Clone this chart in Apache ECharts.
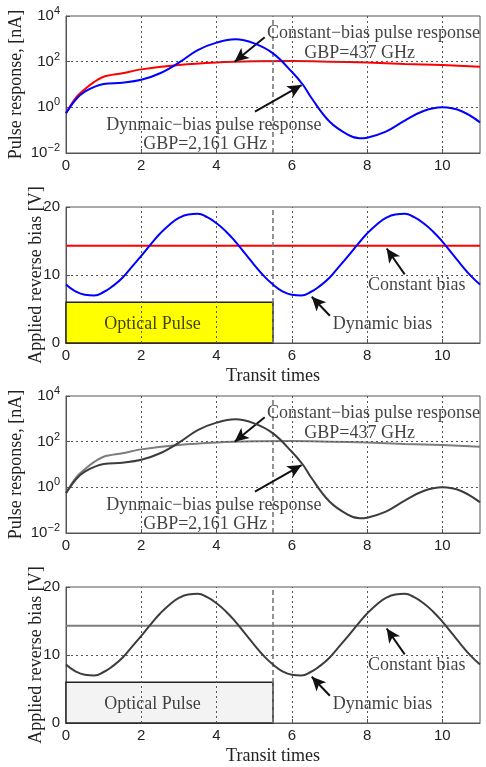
<!DOCTYPE html>
<html>
<head>
<meta charset="utf-8">
<script src="https://cdn.jsdelivr.net/npm/echarts@6/dist/echarts.min.js"></script>
<style>
  html, body { margin: 0; padding: 0; background: #fff; }
  #chart { width: 486px; height: 767px; }
</style>
</head>
<body>
<div id="chart"></div>
<script>
// pulse response (nA)
const xDynResp = [0, 0.25, 0.5, 1, 1.5, 2, 2.5, 3, 3.5, 4, 4.5, 5, 5.5, 6, 6.3, 6.5, 7, 7.5, 7.8, 8, 8.5, 9, 9.5, 10, 10.5, 11]
const dynResp = [0.55, 2.1, 4.9, 10.5, 12, 16, 31, 90, 320, 680, 950, 630, 230, 36, 9.5, 2.9, 0.24, 0.062, 0.044, 0.047, 0.086, 0.26, 0.69, 1.0, 0.69, 0.22]
const xConstResp = [0, 0.25, 0.5, 0.75, 1, 1.5, 2, 3, 4, 5, 6, 7, 8, 9, 10, 11]
const constResp = [0.55, 2.5, 6.2, 13, 22, 31, 46, 71, 91, 103, 107, 100, 91, 79, 71, 60]

// applied reverse bias (V), read every 0.25 transit times
const xBias = [0, 0.25, 0.5, 0.75, 1, 1.25, 1.5, 1.75, 2, 2.25, 2.5, 2.75, 3, 3.25, 3.5, 3.75, 4, 4.25, 4.5, 4.75, 5, 5.25,
  5.5, 5.75, 6, 6.25, 6.5, 6.75, 7, 7.25, 7.5, 7.75, 8, 8.25, 8.5, 8.75, 9, 9.25, 9.5, 9.75, 10, 10.25, 10.5, 10.75, 11]
const dynBias = [8.6, 7.6, 7.1, 7.0, 7.5, 8.4, 9.6, 11.2, 12.8, 14.5, 16.1, 17.4, 18.4, 18.9, 19.0, 18.5, 17.6, 16.4, 14.9, 13.2, 11.5, 9.9,
  8.6, 7.6, 7.1, 7.0, 7.5, 8.4, 9.6, 11.2, 12.8, 14.5, 16.1, 17.4, 18.4, 18.9, 19.0, 18.5, 17.6, 16.4, 14.9, 13.2, 11.5, 9.9, 8.6]
const xConstBias = [0, 11]
const constBias = [14.3, 14.3]

const pulseStart = 0
const pulseEnd = 5.5
const pulseHeight = 6

// inner grid lines (dotted)
const xGridTicks = [2, 4, 6, 8, 10]
const respGridTicks = [1, 100]
const biasGridTicks = [10]

const serif = '"Liberation Serif", "DejaVu Serif", serif'
const sans = '"Liberation Sans", Arial, sans-serif'

const chart = echarts.init(document.getElementById('chart'))

const gridPos = [
  { top: 16, height: 137 },
  { top: 207, height: 136 },
  { top: 396, height: 137 },
  { top: 587, height: 136 }
]

// panel colours
const palettes = [
  { dyn: '#0000ff', cst: '#ff0000', fill: '#ffff00' },
  { dyn: '#0000ff', cst: '#ff0000', fill: '#ffff00' },
  { dyn: '#3c3c3c', cst: '#7d7d7d', fill: '#f3f3f3' },
  { dyn: '#3c3c3c', cst: '#7d7d7d', fill: '#f3f3f3' }
]

const pairs = (xs, ys) => xs.map((x, i) => [x, ys[i]])

function supLabel(v) {
  const e = Math.round(Math.log10(v))
  return '{b|10}{s|' + (e < 0 ? '\u2212' + (-e) : e) + '}'
}

const grid = gridPos.map(g => ({
  left: 66, width: 414, top: g.top, height: g.height,
  containLabel: false, outerBoundsMode: 'none',
  show: true, borderColor: '#555', borderWidth: 1, backgroundColor: 'transparent'
}))

const xAxis = gridPos.map((g, i) => ({
  type: 'value', gridIndex: i, min: 0, max: 11, interval: 2,
  name: (i % 2 === 1) ? 'Transit times' : '',
  nameLocation: 'middle', nameGap: 24, nameMoveOverlap: false,
  nameTextStyle: { fontFamily: serif, fontSize: 18, color: '#222' },
  axisLine: { show: true, lineStyle: { color: '#555' } },
  axisTick: { show: true, inside: true, length: 4, lineStyle: { color: '#555' } },
  axisLabel: { fontFamily: sans, fontSize: 15, color: '#222', margin: 5, showMaxLabel: false },
  splitLine: { show: false }
}))

const yAxis = gridPos.map((g, i) => {
  const base = {
    gridIndex: i,
    nameLocation: 'middle', nameRotate: 90, nameMoveOverlap: false,
    nameTextStyle: { fontFamily: serif, fontSize: 18, color: '#222' },
    axisLine: { show: true, lineStyle: { color: '#555' } },
    axisTick: { show: true, inside: true, length: 4, lineStyle: { color: '#555' } },
    splitLine: { show: false }
  }
  if (i % 2 === 0) {
    return Object.assign(base, {
      type: 'log', logBase: 10, min: 0.01, max: 10000, interval: 2,
      name: 'Pulse response, [nA]', nameGap: 41,
      axisLabel: {
        formatter: supLabel, margin: 6,
        rich: {
          b: { fontFamily: sans, fontSize: 15, color: '#222' },
          s: { fontFamily: sans, fontSize: 11, color: '#222', padding: [0, 0, 10, 0] }
        }
      }
    })
  }
  return Object.assign(base, {
    type: 'value', min: 0, max: 20, interval: 10,
    name: 'Applied reverse bias [V]', nameGap: 21,
    axisLabel: { fontFamily: sans, fontSize: 15, color: '#222', margin: 6 }
  })
})

function gridLines(i, yTicks) {
  return {
    type: 'line', xAxisIndex: i, yAxisIndex: i, data: [], silent: true, z: 1,
    markLine: {
      silent: true, symbol: 'none', label: { show: false }, animation: false,
      lineStyle: { color: '#555', width: 1, type: [2, 3], opacity: 1 },
      data: xGridTicks.map(v => ({ xAxis: v })).concat(yTicks.map(v => ({ yAxis: v })))
    }
  }
}

const arrowStyle = { color: '#111', width: 2, type: 'solid' }

function arrows(i, list) {
  return {
    type: 'line', xAxisIndex: i, yAxisIndex: i, data: [], silent: true, z: 6,
    markLine: {
      silent: true, symbol: ['none', 'arrow'], symbolSize: [10, 14],
      label: { show: false }, lineStyle: arrowStyle, animation: false,
      data: list.map(a => [{ coord: a[0] }, { coord: a[1] }])
    }
  }
}

function texts(i, list) {
  return {
    type: 'scatter', xAxisIndex: i, yAxisIndex: i, symbolSize: 0, silent: true, z: 10,
    data: list,
    label: {
      show: true, position: 'inside', formatter: p => p.data[2],
      fontFamily: serif, fontSize: 18, color: '#111'
    }
  }
}

function dashLine(i) {
  return {
    type: 'line', xAxisIndex: i, yAxisIndex: i, data: [], silent: true, z: 3,
    markLine: {
      silent: true, symbol: 'none', label: { show: false }, animation: false,
      lineStyle: { color: '#777', width: 1.6, type: [5, 3] },
      data: [{ xAxis: pulseEnd }]
    }
  }
}

const series = []
gridPos.forEach((g, i) => {
  const pal = palettes[i]
  series.push(gridLines(i, i % 2 === 0 ? respGridTicks : biasGridTicks))
  if (i % 2 === 0) {
    series.push({
      type: 'line', xAxisIndex: i, yAxisIndex: i, data: pairs(xConstResp, constResp),
      smooth: 0.3, showSymbol: false, lineStyle: { color: pal.cst, width: 2 }, z: 4
    })
    series.push({
      type: 'line', xAxisIndex: i, yAxisIndex: i, data: pairs(xDynResp, dynResp),
      smooth: 0.4, showSymbol: false, lineStyle: { color: pal.dyn, width: 2 }, z: 5
    })
    series.push(dashLine(i))
    series.push(arrows(i, [
      [[5.28, 1170], [4.48, 100]],
      [[5.02, 0.65], [6.26, 9.5]]
    ]))
    series.push(texts(i, [
      [8.17, 1740, 'Constant\u2212bias pulse response'],
      [7.8, 230, 'GBP=437 GHz'],
      [3.93, 0.17, 'Dynmaic\u2212bias pulse response'],
      [3.7, 0.025, 'GBP=2,161 GHz']
    ]))
  } else {
    // optical pulse box sits above the dotted grid
    series.push({
      type: 'line', xAxisIndex: i, yAxisIndex: i, data: [], silent: true, z: 2,
      markArea: {
        silent: true, animation: false,
        itemStyle: { color: pal.fill, borderColor: '#222', borderWidth: 1.5 },
        data: [[{ coord: [pulseStart, 0] }, { coord: [pulseEnd, pulseHeight] }]]
      }
    })
    series.push(dashLine(i))
    series.push({
      type: 'line', xAxisIndex: i, yAxisIndex: i, data: pairs(xConstBias, constBias),
      showSymbol: false, lineStyle: { color: pal.cst, width: 2 }, z: 4
    })
    series.push({
      type: 'line', xAxisIndex: i, yAxisIndex: i, data: pairs(xBias, dynBias),
      smooth: true, showSymbol: false, lineStyle: { color: pal.dyn, width: 2 }, z: 5
    })
    series.push(arrows(i, [
      [[9.0, 10.1], [8.52, 13.9]],
      [[7.01, 4.0], [6.53, 6.8]]
    ]))
    series.push(texts(i, [
      [9.32, 8.5, 'Constant bias'],
      [8.41, 2.8, 'Dynamic bias'],
      [2.3, 2.8, 'Optical Pulse']
    ]))
  }
})

chart.setOption({
  animation: false,
  grid: grid,
  xAxis: xAxis,
  yAxis: yAxis,
  series: series
})
</script>
</body>
</html>
